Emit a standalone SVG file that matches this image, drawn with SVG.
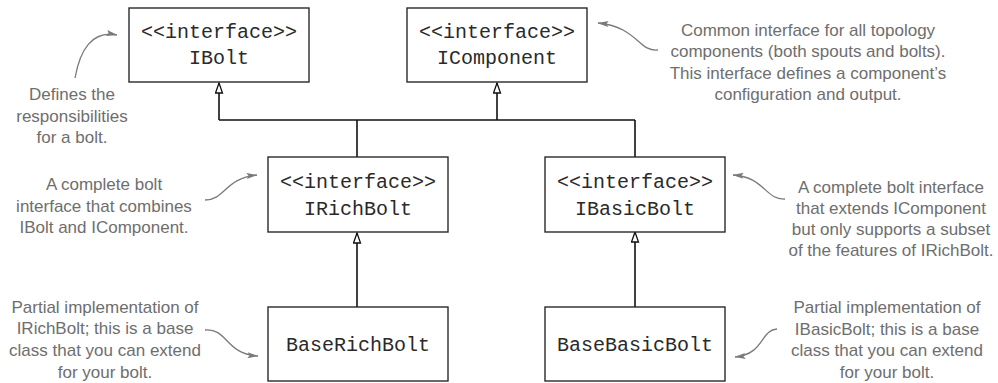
<svg xmlns="http://www.w3.org/2000/svg" width="998" height="383" viewBox="0 0 998 383">
<style>
.box{fill:#fff;stroke:#2a2a2a;stroke-width:1.4}
.mono{font-family:"Liberation Mono","Courier New",monospace;font-size:20px;fill:#2a2a2a;text-anchor:middle}
.note{font-family:"Liberation Sans",Arial,sans-serif;font-size:17px;fill:#6e6e6e;text-anchor:middle}
.conn{fill:none;stroke:#111;stroke-width:1.6}
.call{fill:none;stroke:#7a7a7a;stroke-width:1.3}
</style>
<defs>
<marker id="tri" markerUnits="userSpaceOnUse" viewBox="0 0 12 9" refX="11" refY="4.5" markerWidth="12" markerHeight="9" orient="auto">
<path d="M1,1 L11,4.5 L1,8 z" fill="#fff" stroke="#111" stroke-width="1.3"/>
</marker>
<marker id="ah" markerUnits="userSpaceOnUse" viewBox="0 0 11 7" refX="10.5" refY="3.5" markerWidth="11" markerHeight="7" orient="auto">
<path d="M0,0.5 L11,3.5 L0,6.5 L2,3.5 z" fill="#7a7a7a"/>
</marker>
</defs>
<rect width="998" height="383" fill="#fff"/>
<g id="connectors">
<path class="conn" d="M219,120 H635"/>
<path class="conn" d="M357,120 V157"/>
<path class="conn" d="M635,120 V157"/>
<path class="conn" d="M219,120 V83" marker-end="url(#tri)"/>
<path class="conn" d="M497,120 V83" marker-end="url(#tri)"/>
<path class="conn" d="M357,307 V233" marker-end="url(#tri)"/>
<path class="conn" d="M635,307 V232" marker-end="url(#tri)"/>
</g>
<g id="IBolt">
<rect class="box" x="129" y="8" width="180" height="74"/>
<text class="mono" x="219" y="38">&lt;&lt;interface&gt;&gt;</text>
<text class="mono" x="219" y="64">IBolt</text>
</g>
<g id="IComponent">
<rect class="box" x="407" y="8" width="180" height="74"/>
<text class="mono" x="497" y="38">&lt;&lt;interface&gt;&gt;</text>
<text class="mono" x="497" y="64">IComponent</text>
</g>
<g id="IRichBolt">
<rect class="box" x="268" y="157" width="180" height="75"/>
<text class="mono" x="358" y="188">&lt;&lt;interface&gt;&gt;</text>
<text class="mono" x="358" y="215">IRichBolt</text>
</g>
<g id="IBasicBolt">
<rect class="box" x="545" y="157" width="180" height="75"/>
<text class="mono" x="635" y="188">&lt;&lt;interface&gt;&gt;</text>
<text class="mono" x="635" y="215">IBasicBolt</text>
</g>
<g id="BaseRichBolt">
<rect class="box" x="268" y="307" width="180" height="74"/>
<text class="mono" x="358" y="351">BaseRichBolt</text>
</g>
<g id="BaseBasicBolt">
<rect class="box" x="545" y="307" width="180" height="74"/>
<text class="mono" x="635" y="351">BaseBasicBolt</text>
</g>
<g id="note-IBolt">
<path class="call" d="M75,78 C80,50 92,30 117,35" marker-end="url(#ah)"/>
<text class="note" x="72" y="100">Defines the</text>
<text class="note" x="72" y="121.5">responsibilities</text>
<text class="note" x="72" y="143">for a bolt.</text>
</g>
<g id="note-IComponent">
<path class="call" d="M658,50 C638,52 638,27 598,23" marker-end="url(#ah)"/>
<text class="note" x="808" y="36">Common interface for all topology</text>
<text class="note" x="808" y="57.3">components (both spouts and bolts).</text>
<text class="note" x="808" y="78.6">This interface defines a component’s</text>
<text class="note" x="808" y="100">configuration and output.</text>
</g>
<g id="note-IRichBolt">
<path class="call" d="M205,200 C225,200 225,178 257,175" marker-end="url(#ah)"/>
<text class="note" x="104" y="190">A complete bolt</text>
<text class="note" x="104" y="211.5">interface that combines</text>
<text class="note" x="104" y="233">IBolt and IComponent.</text>
</g>
<g id="note-IBasicBolt">
<path class="call" d="M785,199 C765,200 765,177 733,175" marker-end="url(#ah)"/>
<text class="note" x="891" y="193">A complete bolt interface</text>
<text class="note" x="891" y="214">that extends IComponent</text>
<text class="note" x="891" y="235">but only supports a subset</text>
<text class="note" x="891" y="256">of the features of IRichBolt.</text>
</g>
<g id="note-BaseRichBolt">
<path class="call" d="M205,330 C228,328 225,354 258,356" marker-end="url(#ah)"/>
<text class="note" x="105" y="312.7">Partial implementation of</text>
<text class="note" x="105" y="334.3">IRichBolt; this is a base</text>
<text class="note" x="105" y="356">class that you can extend</text>
<text class="note" x="105" y="377.7">for your bolt.</text>
</g>
<g id="note-BaseBasicBolt">
<path class="call" d="M777,329 C760,330 765,354 735,357" marker-end="url(#ah)"/>
<text class="note" x="887" y="313.3">Partial implementation of</text>
<text class="note" x="887" y="334.8">IBasicBolt; this is a base</text>
<text class="note" x="887" y="356.3">class that you can extend</text>
<text class="note" x="887" y="377.8">for your bolt.</text>
</g>
</svg>
